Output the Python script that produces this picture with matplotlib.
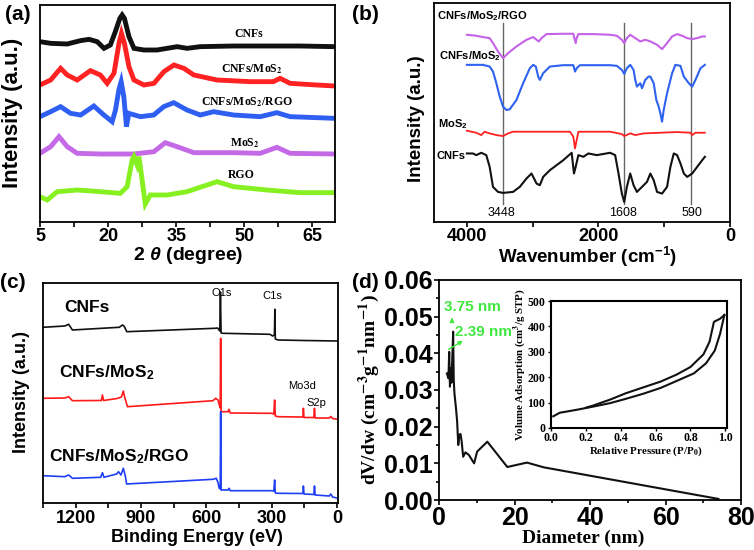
import matplotlib
matplotlib.use('Agg')
import matplotlib.pyplot as plt
from matplotlib.ticker import MultipleLocator, FixedLocator, FormatStrFormatter

# ---------------- (a) XRD data ----------------
xrd_cnfs_t = [5.0, 7.35, 11.0, 13.9, 15.8, 17.6, 19.1, 20.5, 21.6, 22.6, 23.1, 23.6, 24.6, 25.7,
              27.9, 30.8, 33.0, 35.2, 37.4, 40.3, 47.6, 55.0, 62.3, 70.0]
xrd_cnfs_i = [541, 536, 534, 544, 548, 541, 521, 531, 571, 611, 621, 611, 556, 521,
              516, 516, 521, 526, 521, 526, 528, 528, 528, 526]

xrd_cm_t = [5.0, 7.35, 9.54, 11.0, 13.2, 16.1, 18.3, 19.8, 21.3, 22.4, 22.95, 23.6, 24.6, 25.7,
            27.9, 30.1, 32.3, 34.5, 36.7, 38.9, 44.0, 51.3, 56.4, 57.9, 60.1, 66.0, 70.0]
xrd_cm_i = [411, 426, 461, 441, 426, 454, 441, 416, 446, 536, 566, 536, 466, 426,
            411, 416, 451, 471, 461, 441, 426, 421, 421, 431, 416, 411, 408]

xrd_cmr_t = [5.0, 7.35, 9.54, 11.74, 13.94, 16.87, 19.07, 20.9, 21.63, 22.37, 22.88, 23.47, 24.05,
             24.57, 27.13, 30.06, 32.26, 34.46, 37.39, 40.32, 43.25, 47.65, 53.51, 57.18, 60.11, 70.0]
xrd_cmr_i = [316, 331, 346, 326, 321, 348, 321, 301, 336, 396, 421, 376, 286,
             326, 316, 321, 346, 358, 336, 321, 331, 321, 316, 328, 316, 311]

xrd_mos2_t = [5.0, 7.35, 9.18, 11.0, 13.2, 18.3, 25.7, 30.1, 32.6, 35.2, 38.9, 47.65, 53.5, 57.2, 60.1, 70.0]
xrd_mos2_i = [206, 226, 256, 226, 206, 204, 204, 211, 238, 226, 208, 208, 206, 224, 206, 204]

xrd_rgo_t = [5.0, 6.6, 8.8, 13.2, 18.3, 22.7, 24.2, 25.3, 25.7, 26.4, 26.8, 27.5, 28.2, 29.3,
             33.0, 37.4, 41.8, 44.0, 47.65, 55.0, 62.3, 70.0]
xrd_rgo_i = [76, 66, 91, 96, 91, 86, 106, 186, 196, 171, 196, 126, 54, 81,
             81, 91, 111, 121, 106, 96, 88, 88]

xrd_names = ['CNFs', 'CNFs/MoS$_2$', 'CNFs/MoS$_2$/RGO', 'MoS$_2$', 'RGO']

# ---------------- (b) FTIR data ----------------
ir_cmr_w = [4000, 3858, 3756, 3654, 3603, 3527, 3450, 3374, 3247, 3094, 2992, 2941, 2906, 2865, 2789,
            2534, 2382, 2367, 2346, 2331, 2305, 2076, 1822, 1720, 1644, 1608, 1568, 1517, 1440, 1364,
            1288, 1211, 1109, 1033, 957, 880, 804, 728, 651, 575, 499, 422, 382]
ir_cmr_i = [560, 557, 553, 550, 535, 510, 490, 505, 525, 545, 553, 545, 540, 550, 562,
            563, 563, 550, 535, 550, 562, 562, 560, 557, 545, 535, 550, 560, 550, 540,
            545, 540, 530, 517, 535, 555, 562, 557, 550, 547, 550, 555, 555]

ir_cm_w = [4000, 3756, 3654, 3603, 3552, 3501, 3450, 3399, 3349, 3247, 3145, 3043, 2992, 2952, 2916,
           2891, 2840, 2738, 2534, 2382, 2356, 2331, 2280, 1822, 1720, 1644, 1608, 1568, 1517, 1466,
           1440, 1415, 1364, 1338, 1288, 1237, 1211, 1160, 1120, 1084, 1059, 1033, 1008, 957, 880,
           830, 753, 702, 626, 575, 525, 448, 382]
ir_cm_i = [470, 470, 465, 450, 415, 375, 345, 335, 337, 365, 415, 460, 470, 465, 435,
           425, 445, 465, 469, 469, 450, 460, 469, 469, 467, 455, 443, 460, 470, 455,
           425, 405, 415, 400, 425, 435, 435, 415, 365, 345, 325, 300, 335, 385, 445,
           470, 467, 435, 415, 405, 425, 460, 470]

ir_mos2_w = [4000, 3858, 3781, 3730, 3654, 3552, 3450, 3374, 3298, 3094, 2433, 2382, 2356, 2331,
             2305, 1822, 1644, 1608, 1517, 1440, 1313, 1059, 804, 601, 575, 525, 382]
ir_mos2_i = [273, 267, 260, 270, 265, 260, 257, 265, 270, 270, 270, 255, 220, 245,
             270, 270, 263, 257, 265, 260, 265, 267, 269, 267, 260, 267, 267]

ir_cnfs_w = [4000, 3908, 3858, 3781, 3705, 3654, 3603, 3527, 3450, 3298, 3196, 3094, 3018, 2941,
             2891, 2840, 2738, 2534, 2407, 2372, 2346, 2305, 2229, 2153, 2025, 1822, 1746, 1695,
             1644, 1608, 1568, 1517, 1466, 1415, 1338, 1262, 1211, 1160, 1109, 1033, 957, 906,
             855, 804, 753, 702, 651, 575, 499, 422, 382]
ir_cnfs_i = [205, 205, 200, 207, 200, 165, 105, 90, 87, 90, 105, 130, 145, 115,
             110, 135, 155, 185, 207, 145, 165, 200, 195, 205, 200, 207, 200, 145,
             85, 60, 105, 145, 110, 90, 105, 120, 145, 125, 90, 85, 105, 165,
             205, 200, 175, 145, 135, 145, 165, 185, 195]

ir_marks = [3448, 1608, 590]

# ---------------- (c) XPS data ----------------
xps_cnfs_e = [1350, 1250, 1232, 1215, 1000, 985, 978, 965, 562, 548, 538, 535, 532, 523,
              308, 295, 287, 285, 283, 270, 150, -5]
xps_cnfs_i = [175.7, 177, 178.7, 173, 175.7, 178, 177, 171.3, 174.7, 175, 172, 211, 170, 169.7,
              168.7, 167, 168, 193.7, 164, 163, 162.5, 162]

xps_cm_e = [1350, 1250, 1232, 1215, 1082, 1077, 1072, 1010, 990, 981, 975, 962, 569, 557, 546,
            538, 536, 534, 532, 527, 500, 496, 490, 300, 290, 286, 283, 270, 160, 156, 154, 151,
            106, 103, 100, 35, 28, 20, -5]
xps_cm_i = [104.7, 105, 106.3, 102.3, 102.5, 108, 102.5, 104.5, 106, 112, 106, 96.3, 102.3, 104.7, 103,
            96.3, 95, 164.7, 92, 91.3, 91.3, 93.7, 90, 89.7, 89, 103, 87, 86.3, 86, 86, 94.7, 85.5,
            85.5, 94.7, 85, 85, 86.5, 84.5, 83.7]

xps_cmr_e = [1350, 1250, 1232, 1215, 1085, 1077, 1070, 1012, 1003, 992, 981, 972, 966, 569, 554,
             546, 541, 536, 534, 532, 527, 500, 496, 490, 300, 290, 286, 283, 270, 160, 156, 154,
             151, 106, 103, 100, 35, 28, 20, -5]
xps_cmr_i = [27.3, 26.3, 28, 24.7, 25.7, 30.3, 25.7, 29, 31.3, 28, 34.7, 27, 19, 23.7, 24.7,
             20.3, 15, 14, 91.3, 13, 13, 13, 14.7, 12.3, 12.3, 12, 23, 10, 9.7, 9.5, 9.5, 17,
             9, 8.5, 17, 8, 7, 9, 6, 4.7]

# ---------------- (d) pore size / isotherm ----------------
psd_d = [2.1, 2.5, 2.7, 2.9, 3.1, 3.3, 3.5, 3.75, 3.9, 4.1, 4.5, 4.8, 5.1, 5.4, 5.7, 6.0, 6.4,
         7.0, 7.9, 9.3, 10.1, 12.8, 18.1, 23.3, 27.8, 74.0]
psd_v = [0.0345, 0.0332, 0.0404, 0.0309, 0.036, 0.032, 0.038, 0.0459, 0.0327, 0.029, 0.025, 0.0215,
         0.015, 0.0178, 0.0180, 0.0160, 0.0118, 0.0130, 0.0123, 0.0100, 0.0132, 0.0159, 0.0090,
         0.0102, 0.0089, 0.0003]

iso_ads_p = [0.013, 0.05, 0.15, 0.24, 0.34, 0.43, 0.53, 0.63, 0.72, 0.82, 0.89, 0.94, 0.97, 0.995]
iso_ads_v = [46, 60, 72, 84, 98, 115, 135, 158, 185, 215, 255, 305, 370, 445]
iso_des_p = [0.995, 0.97, 0.935, 0.91, 0.875, 0.80, 0.72, 0.63, 0.53, 0.43, 0.34, 0.24, 0.20]
iso_des_v = [445, 430, 418, 340, 290, 240, 210, 183, 160, 137, 112, 88, 80]

# ---------------- style ----------------
plt.rcParams['font.family'] = ['Liberation Sans', 'DejaVu Sans']
plt.rcParams['font.weight'] = 'bold'
plt.rcParams['mathtext.fontset'] = 'custom'
plt.rcParams['mathtext.rm'] = 'Liberation Sans:bold'
plt.rcParams['mathtext.it'] = 'Liberation Sans:italic:bold'
plt.rcParams['mathtext.bf'] = 'Liberation Sans:bold'
plt.rcParams['axes.linewidth'] = 1.3

W, H = 754, 550
fig = plt.figure(figsize=(W / 100, H / 100), dpi=100)


def box(l, t, r, b):
    return [l / W, 1 - b / H, (r - l) / W, (b - t) / H]


def ftext(x, y, s, **kw):
    fig.text(x / W, 1 - y / H, s, ha='center', va='center', **kw)


serif = dict(family='Liberation Serif', weight='bold', math_fontfamily='stix')

# ---------------- (a) ----------------
axa = fig.add_axes(box(40, 5, 335, 222))
cols_a = ['#111111', '#ff2222', '#2f5ff2', '#c46ae6', '#86f020']
for t, i, c in zip([xrd_cnfs_t, xrd_cm_t, xrd_cmr_t, xrd_mos2_t, xrd_rgo_t],
                   [xrd_cnfs_i, xrd_cm_i, xrd_cmr_i, xrd_mos2_i, xrd_rgo_i], cols_a):
    axa.plot(t, i, color=c, lw=3.5, solid_joinstyle='miter')
axa.set_xlim(5, 70)
axa.set_ylim(0, 651)
axa.set_yticks([])
axa.xaxis.set_major_locator(FixedLocator([5, 20, 35, 50, 65]))
axa.xaxis.set_minor_locator(FixedLocator([12.5, 27.5, 42.5, 57.5]))
axa.tick_params(axis='x', which='both', direction='out', labelsize=13, length=3.5, width=1.2, pad=1.0)
lab_a = [(50.9, 564), (51.6, 458), (50.5, 361), (50.2, 238), (49.4, 141)]
for (x, y), s in zip(lab_a, xrd_names):
    axa.text(x, y, s, ha='center', va='center', fontsize=8.5, **serif)
ftext(13, 113, 'Intensity (a.u.)', rotation=90, fontsize=16)
ftext(188, 256, r'2 $\theta$ (degree)', fontsize=14)
ftext(18, 14, '(a)', fontsize=15)

# ---------------- (b) ----------------
axb = fig.add_axes(box(434, 3, 730, 222))
for w in ir_marks:
    axb.plot([w, w], [55, 595], color='#666666', lw=1.0)
axb.plot(ir_cmr_w, ir_cmr_i, color='#c462e8', lw=1.5)
axb.plot(ir_cm_w, ir_cm_i, color='#2f62f0', lw=1.5)
axb.plot(ir_mos2_w, ir_mos2_i, color='#ff2020', lw=1.3)
axb.plot(ir_cnfs_w, ir_cnfs_i, color='#111111', lw=1.5)
axb.set_xlim(4500, 0)
axb.set_ylim(0, 655)
axb.set_yticks([])
axb.xaxis.set_major_locator(FixedLocator([4000, 2000, 0]))
axb.xaxis.set_minor_locator(FixedLocator([3000, 1000]))
axb.tick_params(axis='x', which='both', direction='out', labelsize=13, length=3.5, width=1.2, pad=1.0)
ir_names = ['CNFs/MoS$_2$/RGO', 'CNFs/MoS$_2$', 'MoS$_2$', 'CNFs']
for (x, y), s in zip([(4447, 615), (4417, 495), (4443, 293), (4458, 197)], ir_names):
    axb.text(x, y, s, ha='left', va='center', fontsize=8)
for x, w in zip([3480, 1628, 585], ir_marks):
    axb.text(x, 27, str(w), ha='center', va='center', fontsize=9, fontweight='normal')
ftext(417, 119, 'Intensity (a.u.)', rotation=90, fontsize=13.5)
ftext(588, 257, 'Wavenumber (cm$^{-1}$)', fontsize=13.5)
ftext(365, 14, '(b)', fontsize=15)

# ---------------- (c) ----------------
axc = fig.add_axes(box(43, 283, 338, 503))
axc.plot(xps_cnfs_e, xps_cnfs_i, color='#111111', lw=1.2)
axc.plot(xps_cm_e, xps_cm_i, color='#ff1a1a', lw=1.2)
axc.plot(xps_cmr_e, xps_cmr_i, color='#1f3ff5', lw=1.2)
axc.set_xlim(1350, -5)
axc.set_ylim(0, 220)
axc.set_yticks([])
axc.xaxis.set_major_locator(MultipleLocator(300))
axc.xaxis.set_minor_locator(MultipleLocator(150))
axc.tick_params(axis='x', which='both', direction='out', labelsize=13, length=3.5, width=1.2, pad=1.2)
xps_names = ['CNFs', 'CNFs/MoS$_2$', 'CNFs/MoS$_2$/RGO']
for (x, y), s in zip([(1254, 195), (1277, 130), (1323, 46)], xps_names):
    axc.text(x, y, s, ha='left', va='center', fontsize=12.5)
for (x, y), s in zip([(531, 210), (295, 207), (162, 117), (92, 100)], ['O1s', 'C1s', 'Mo3d', 'S2p']):
    axc.text(x, y, s, ha='center', va='center', fontsize=8, fontweight='normal')
ftext(22, 392, 'Intensity (a.u.)', rotation=90, fontsize=13)
ftext(197, 538, 'Binding Energy (eV)', fontsize=13)
ftext(13, 282, '(c)', fontsize=15)

# ---------------- (d) ----------------
axd = fig.add_axes(box(439, 280, 741, 500))
axd.plot(psd_d, psd_v, color='#111111', lw=1.5)
axd.set_xlim(0, 80)
axd.set_ylim(0, 0.06)
axd.xaxis.set_major_locator(MultipleLocator(20))
axd.xaxis.set_minor_locator(MultipleLocator(10))
axd.yaxis.set_major_locator(MultipleLocator(0.01))
axd.yaxis.set_minor_locator(MultipleLocator(0.005))
axd.yaxis.set_major_formatter(FormatStrFormatter('%.2f'))
axd.tick_params(which='both', direction='out', labelsize=18, length=3.5, width=1.2, pad=1.0)
axd.tick_params(which='minor', length=2.5)
green = '#3ee83e'
axd.text(8.8, 0.0525, '3.75 nm', color=green, fontsize=11, ha='center', va='center')
axd.text(11.9, 0.0459, '2.39 nm', color=green, fontsize=11, ha='center', va='center')
axd.annotate('', xy=(3.43, 0.0505), xytext=(3.43, 0.0482),
             arrowprops=dict(arrowstyle='-|>', color=green, lw=1.0, mutation_scale=6))
axd.annotate('', xy=(6.96, 0.0438), xytext=(1.93, 0.0407),
             arrowprops=dict(arrowstyle='-|>', color=green, lw=1.0, mutation_scale=6))
ftext(369, 390, 'dV/dw (cm$^{\\mathbf{-3}}$g$^{\\mathbf{-1}}$nm$^{\\mathbf{-1}}$)', rotation=90,
      fontsize=14, **serif)
ftext(583, 538, 'Diameter (nm)', fontsize=14, **serif)
ftext(365, 283, '(d)', fontsize=15)

# inset
axi = fig.add_axes(box(551, 301, 727, 428))
axi.plot(iso_ads_p, iso_ads_v, color='#111111', lw=1.5)
axi.plot(iso_des_p, iso_des_v, color='#111111', lw=1.5)
axi.set_xlim(0, 1.01)
axi.set_ylim(0, 500)
axi.xaxis.set_major_locator(MultipleLocator(0.2))
axi.yaxis.set_major_locator(MultipleLocator(100))
axi.xaxis.set_major_formatter(FormatStrFormatter('%.1f'))
axi.tick_params(axis='x', which='both', direction='out', labelsize=8.5, length=2.5, width=1.0, pad=0.5)
axi.tick_params(axis='y', which='both', direction='out', labelsize=8.5, length=2.5, width=1.0, pad=1.5)
for lbl in axi.get_xticklabels() + axi.get_yticklabels():
    lbl.set_family('Liberation Serif')
    lbl.set_fontweight('bold')
for s in axi.spines.values():
    s.set_linewidth(1.5)
ftext(520, 365, 'Volume Adsorption (cm$^\\mathbf{3}$/g STP)', rotation=90, fontsize=7.8, **serif)
ftext(646, 451, 'Relative Pressure (P/P$_\\mathbf{0}$)', fontsize=7.8, **serif)

fig.savefig('out.png', dpi=100)
